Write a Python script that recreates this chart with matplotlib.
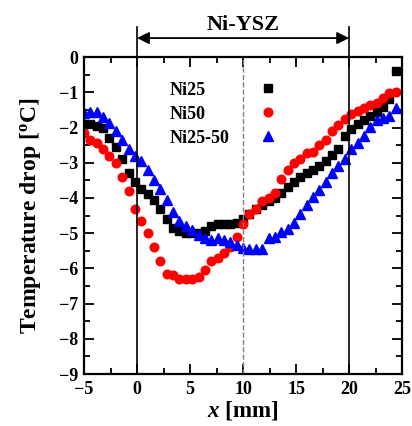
import matplotlib
matplotlib.use("Agg")
import matplotlib.pyplot as plt
from matplotlib.ticker import MultipleLocator

plt.rcParams['font.family'] = ['Liberation Serif', 'DejaVu Serif']
plt.rcParams['font.weight'] = 'bold'
plt.rcParams['mathtext.fontset'] = 'custom'
plt.rcParams['mathtext.rm'] = 'Liberation Serif:bold'
plt.rcParams['mathtext.it'] = 'Liberation Serif:italic:bold'
plt.rcParams['mathtext.bf'] = 'Liberation Serif:bold'

x_mm = [-5.0, -4.4, -3.8, -3.2, -2.6, -2.0, -1.4, -0.8, -0.2, 0.4,
        1.0, 1.6, 2.2, 2.8, 3.4, 4.0, 4.6, 5.2, 5.8, 6.4,
        7.0, 7.6, 8.2, 8.8, 9.4, 10.0, 10.6, 11.2, 11.8, 12.4,
        13.0, 13.6, 14.2, 14.8, 15.4, 16.0, 16.6, 17.2, 17.8, 18.4,
        19.0, 19.6, 20.2, 20.8, 21.4, 22.0, 22.6, 23.2, 23.8, 24.4]

ni25 = [-1.9, -1.9, -1.95, -2.0, -2.3, -2.55, -2.9, -3.3, -3.55, -3.75,
        -3.9, -4.05, -4.3, -4.6, -4.85, -4.95, -5.0, -5.0, -5.0, -4.95,
        -4.8, -4.75, -4.75, -4.75, -4.72, -4.6, -4.45, -4.3, -4.2, -4.1,
        -4.0, -3.85, -3.7, -3.55, -3.4, -3.3, -3.2, -3.1, -2.95, -2.78,
        -2.6, -2.25, -2.05, -1.9, -1.78, -1.68, -1.56, -1.42, -1.2, -0.4]

ni50 = [-2.15, -2.35, -2.45, -2.6, -2.8, -3.0, -3.4, -3.8, -4.3, -4.65,
        -5.0, -5.4, -5.8, -6.15, -6.2, -6.3, -6.3, -6.3, -6.25, -6.05,
        -5.8, -5.7, -5.55, -5.4, -5.1, -4.75, -4.45, -4.3, -4.1, -4.0,
        -3.85, -3.45, -3.2, -3.02, -2.9, -2.72, -2.7, -2.5, -2.35, -2.1,
        -1.92, -1.75, -1.62, -1.52, -1.45, -1.35, -1.3, -1.15, -1.02, -0.99]

ni25_50 = [-1.58, -1.55, -1.55, -1.7, -1.88, -2.1, -2.35, -2.6, -2.8, -2.95,
           -3.2, -3.5, -3.75, -4.05, -4.4, -4.65, -4.8, -4.9, -5.05, -5.15,
           -5.2, -5.15, -5.2, -5.25, -5.33, -5.42, -5.45, -5.45, -5.45, -5.15,
           -5.1, -4.98, -4.87, -4.7, -4.45, -4.2, -3.98, -3.78, -3.55, -3.3,
           -3.1, -2.9, -2.6, -2.45, -2.25, -1.98, -1.8, -1.73, -1.66, -1.45]

series_labels = ['Ni25', 'Ni50', 'Ni25-50']
x_ticks = [-5, 0, 5, 10, 15, 20, 25]
y_ticks = [0, -1, -2, -3, -4, -5, -6, -7, -8, -9]
region_label = 'Ni-YSZ'
region_start, region_end, region_mid = 0, 20, 10

fig = plt.figure(figsize=(4.12, 4.26), dpi=100)
ax = fig.add_axes([0.204, 0.122, 0.772, 0.744])

h1, = ax.plot(x_mm, ni25, linestyle='none', marker='s', ms=5.5, color='black')
h2, = ax.plot(x_mm, ni50, linestyle='none', marker='o', ms=6.2, color='#ff0000')
h3, = ax.plot(x_mm, ni25_50, linestyle='none', marker='^', ms=6.8, color='#0000ff')
handles = [h1, h2, h3]

ax.set_xlim(-5, 25)
ax.set_ylim(-9, 0)
ax.set_xticks(x_ticks)
ax.set_yticks(y_ticks)
ax.xaxis.set_minor_locator(MultipleLocator(2.5))
ax.yaxis.set_minor_locator(MultipleLocator(0.5))
ax.tick_params(which='both', direction='in', top=True, right=True, width=1.3,
               labelsize=13)
ax.tick_params(axis='x', pad=5)
ax.tick_params(axis='y', pad=4)
ax.tick_params(which='major', length=7)
ax.tick_params(which='minor', length=4)
for s in ax.spines.values():
    s.set_linewidth(1.6)

ax.set_xlabel('$x$ [mm]', fontsize=16.5, fontweight='bold', labelpad=1)
ax.set_ylabel(r'Temperature drop [$^{\mathrm{o}}$C]', fontsize=17, fontweight='bold', labelpad=12)

# region lines
ax.plot([region_start, region_start], [-9, 0.85], color='black', lw=1.2, clip_on=False)
ax.plot([region_end, region_end], [-9, 0.85], color='black', lw=1.2, clip_on=False)
ax.plot([region_mid, region_mid], [-9, 0], color='gray', lw=1.0, ls='--')
ax.annotate('', xy=(region_start, 0.54), xytext=(region_end, 0.54),
            arrowprops=dict(arrowstyle='<|-|>', color='black', lw=1.3,
                            mutation_scale=18, shrinkA=0, shrinkB=0),
            annotation_clip=False)
ax.text(region_mid, 0.64, region_label, ha='center', va='bottom', fontsize=16,
        fontweight='bold', clip_on=False)

# legend: marker column (empty labels) on the right, left-aligned text column
legB = ax.legend(handles, ['', '', ''], loc='upper left', bbox_to_anchor=(0.549, 0.922),
                 frameon=False, markerfirst=False, handlelength=1.0, handletextpad=0,
                 labelspacing=0.38, borderpad=0, borderaxespad=0,
                 prop={'size': 13, 'weight': 'bold'})
ax.add_artist(legB)
legA = ax.legend(handles, series_labels, loc='upper left', bbox_to_anchor=(0.27, 0.922),
                 frameon=False, markerfirst=True, handlelength=0, handletextpad=0,
                 labelspacing=0.38, borderpad=0, borderaxespad=0,
                 prop={'size': 13, 'weight': 'bold'})
for lh in legA.legend_handles:
    lh.set_visible(False)

fig.savefig('out.png', dpi=100)
